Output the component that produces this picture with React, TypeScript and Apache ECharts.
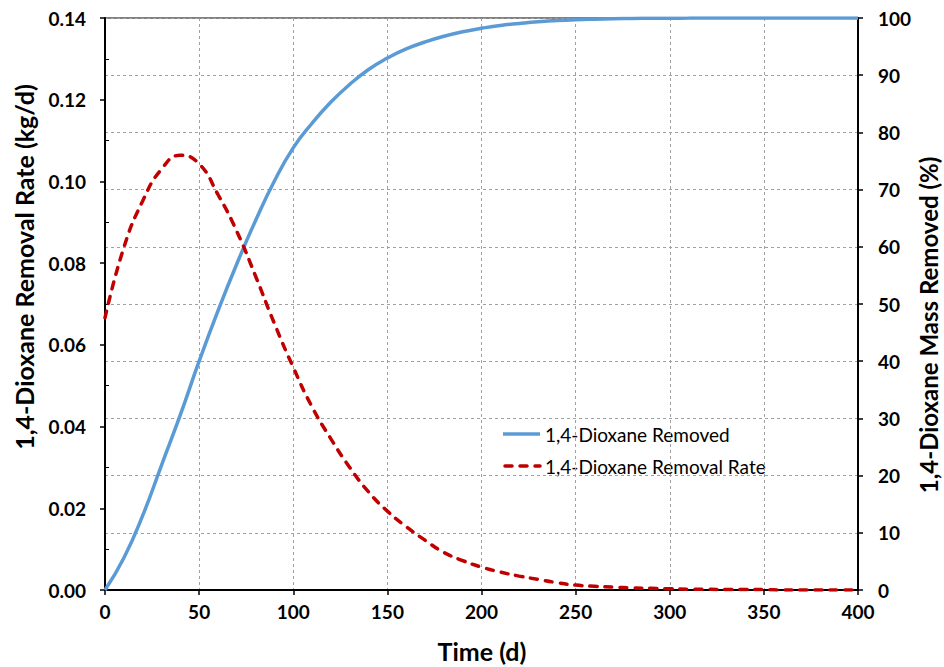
import React, { useEffect, useRef } from "react";
import * as echarts from "echarts";

const days = [0, 10, 20, 30, 40, 50, 60, 70, 80, 90, 100, 110, 120, 130, 140, 150, 160, 170, 180, 190, 200, 210, 220, 230, 240, 250, 260, 270, 280, 290, 300, 310, 320, 330, 340, 350, 360, 370, 380, 390, 400];

const massRemovedPct = [0, 5.6, 13.0, 21.8, 30.6, 40.0, 48.8, 57.0, 64.6, 71.5, 77.3, 81.6, 85.3, 88.4, 91.0, 93.0, 94.6, 95.8, 96.8, 97.6, 98.2, 98.7, 99.05, 99.35, 99.55, 99.7, 99.8, 99.87, 99.92, 99.95, 99.97, 99.98, 99.99, 100, 100, 100, 100, 100, 100, 100, 100];

const removalRate = [0.0666, 0.0838, 0.0952, 0.103, 0.1064, 0.1043, 0.0968, 0.0878, 0.0768, 0.0652, 0.0545, 0.0448, 0.037, 0.03, 0.024, 0.0193, 0.0155, 0.0122, 0.0092, 0.0072, 0.0056, 0.0044, 0.0034, 0.0026, 0.0018, 0.0012, 0.0009, 0.0007, 0.0005, 0.0004, 0.0003, 0.0002, 0.0002, 0.0001, 0.0001, 0.0001, 0, 0, 0, 0, 0];

const minorTickValues = [0.01, 0.03, 0.05, 0.07, 0.09, 0.11, 0.13];

const seriesNames = ["1,4-Dioxane Removed", "1,4-Dioxane Removal Rate"];
const axisTitles = { x: "Time (d)", left: "1,4-Dioxane Removal Rate (kg/d)", right: "1,4-Dioxane Mass Removed (%)" };

const FONT = "Lato, 'Open Sans', sans-serif";
const BLUE = "#5B9BD5";
const RED = "#C00000";
const DASH = [7, 8];

export default function App() {
  const ref = useRef<HTMLDivElement>(null);
  useEffect(() => {
    if (!ref.current) return;
    const chart = echarts.init(ref.current, undefined, { renderer: "svg" });
    const labelStyle = { color: "#000", fontFamily: FONT, fontWeight: "bold" as const, fontSize: 19 };
    const titleFont = { fill: "#000", fontFamily: FONT, fontWeight: "bold" as const, fontSize: 25, align: "center" as const, verticalAlign: "middle" as const };
    const legendFont = { fill: "#000", fontFamily: FONT, fontSize: 19, align: "left" as const, verticalAlign: "middle" as const };
    const axisLine = { show: true, onZero: false, lineStyle: { color: "#000", width: 2 } };
    const axisTick = { show: true, inside: false, length: 5, lineStyle: { color: "#000", width: 1.5 } };
    const split = { show: true, lineStyle: { color: "#a0a0a0", type: [3, 3] as number[], width: 1 } };
    chart.setOption({
      animation: false,
      backgroundColor: "#fff",
      grid: { left: 105, right: 86, top: 18, bottom: 77, outerBoundsMode: "none", containLabel: false, show: true, borderColor: "#000", borderWidth: 1, backgroundColor: "transparent" },
      graphic: [
        { type: "text", x: 482, y: 651, style: { ...titleFont, text: axisTitles.x } },
        { type: "text", x: 24, y: 267, rotation: Math.PI / 2, style: { ...titleFont, text: axisTitles.left } },
        { type: "text", x: 928, y: 325, rotation: Math.PI / 2, style: { ...titleFont, fontSize: 24, text: axisTitles.right } },
        { type: "line", shape: { x1: 503, y1: 434, x2: 540, y2: 434 }, style: { stroke: BLUE, lineWidth: 3.5 } },
        { type: "text", x: 545, y: 434, style: { ...legendFont, text: seriesNames[0] } },
        { type: "line", shape: { x1: 505, y1: 466, x2: 540, y2: 466 }, style: { stroke: RED, lineWidth: 3.5, lineDash: DASH, lineCap: "round" } },
        { type: "text", x: 545, y: 466, style: { ...legendFont, text: seriesNames[1] } },
      ],
      xAxis: {
        type: "value",
        min: 0,
        max: 400,
        interval: 50,
        axisLine,
        axisTick,
        axisLabel: { ...labelStyle, margin: 12 },
        splitLine: split,
      },
      yAxis: [
        {
          type: "value",
          position: "left",
          min: 0,
          max: 0.14,
          interval: 0.02,
          axisLine,
          axisTick,
          axisLabel: { ...labelStyle, margin: 19, formatter: (v: number) => v.toFixed(2) },
          splitLine: { show: false },
        },
        {
          type: "value",
          position: "right",
          min: 0,
          max: 100,
          interval: 10,
          axisLine,
          axisTick,
          axisLabel: { ...labelStyle, margin: 20 },
          splitLine: split,
        },
        {
          type: "value",
          position: "left",
          min: 0,
          max: 0.14,
          interval: 0.01,
          axisLine: { show: false },
          axisTick: { show: true, inside: true, length: 4, customValues: minorTickValues, lineStyle: { color: "#000", width: 1 } },
          axisLabel: { show: false },
          splitLine: { show: false },
        },
      ],
      series: [
        {
          name: seriesNames[0],
          type: "line",
          yAxisIndex: 1,
          smooth: true,
          symbol: "none",
          showSymbol: false,
          lineStyle: { color: BLUE, width: 3.5 },
          itemStyle: { color: BLUE },
          data: days.map((d, i) => [d, massRemovedPct[i]]),
          z: 3,
        },
        {
          name: seriesNames[1],
          type: "line",
          yAxisIndex: 0,
          smooth: true,
          symbol: "none",
          showSymbol: false,
          lineStyle: { color: RED, width: 3.5, type: DASH, cap: "round" },
          itemStyle: { color: RED },
          data: days.map((d, i) => [d, removalRate[i]]),
          z: 4,
        },
      ],
    });
    return () => chart.dispose();
  }, []);
  return <div ref={ref} style={{ width: 944, height: 667, position: "absolute", left: 0, top: 0 }} />;
}
